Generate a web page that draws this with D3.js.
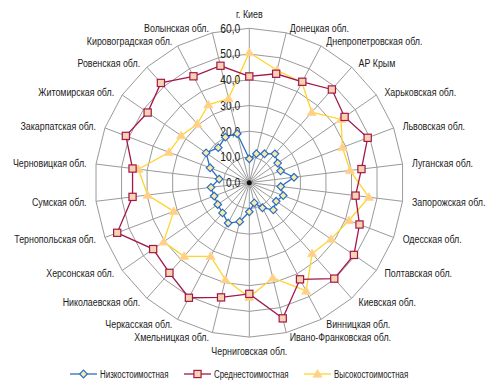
<!DOCTYPE html>
<html><head><meta charset="utf-8">
<script src="https://cdn.jsdelivr.net/npm/d3@7"></script>
<style>
html,body{margin:0;padding:0;background:#fff;}
text{font-family:"Liberation Sans",Arial,sans-serif;}
</style></head>
<body><svg id="c" width="500" height="389"></svg>
<script>
const categories = ["г. Киев","Донецкая обл.","Днепропетровская обл.","АР Крым","Харьковская обл.","Львовская обл.","Луганская обл.","Запорожская обл.","Одесская обл.","Полтавская обл.","Киевская обл.","Винницкая обл.","Ивано-Франковская обл.","Черниговская обл.","Хмельницкая обл.","Черкасская обл.","Николаевская обл.","Херсонская обл.","Тернопольская обл.","Сумская обл.","Черновицкая обл.","Закарпатская обл.","Житомирская обл.","Ровенская обл.","Кировоградская обл.","Волынская обл."];
const lowValues = [9.3,11.6,12.7,15.0,13.4,13.0,17.5,12.3,14.1,12.7,14.1,11.0,8.1,11.3,15.6,17.7,15.7,14.9,14.6,15.0,11.8,16.3,20.4,18.2,20.0,19.6];
const midValues = [41.3,43.6,44.3,48.4,45.0,49.2,43.9,41.6,45.8,49.4,49.8,42.4,54.3,43.2,45.9,50.5,46.8,45.4,54.9,45.7,45.7,51.3,48.0,51.8,46.7,46.8];
const highValues = [50.6,45.0,44.0,36.6,43.3,38.7,39.4,46.8,41.4,38.6,36.8,47.5,38.1,44.5,38.8,32.3,38.2,40.5,31.4,39.8,43.4,33.4,32.2,30.5,34.2,33.7];
const seriesNames = ["Низкостоимостная","Среднестоимостная","Высокостоимостная"];
const tickValues = [0,10,20,30,40,50,60];
const tickLabels = ["0,0","10,0","20,0","30,0","40,0","50,0","60,0"];

const cx = 249.3, cy = 182.7, R = 154.4;
const NARROW = 0.82;
const svg = d3.select("#c");
const n = categories.length;
const r = d3.scaleLinear().domain([0,60]).range([0,R]);
const ang = d3.scaleLinear().domain([0,n]).range([0,2*Math.PI]);
const pt = (i,v) => [cx + r(v)*Math.sin(ang(i)), cy - r(v)*Math.cos(ang(i))];

function ntext(sel, x, y, anchor, size, str, sx){
  return sel.append("text").attr("transform",`translate(${x},${y}) scale(${sx||NARROW},1)`)
    .attr("text-anchor",anchor).attr("dominant-baseline","central")
    .attr("font-size",size).attr("fill","#1a1a1a").text(str);
}

const g = svg.append("g");
tickValues.slice(1).forEach(t=>{
  const pts = d3.range(n).map(i=>pt(i,t));
  g.append("path").attr("d", d3.line()(pts)+"Z")
   .attr("fill","none").attr("stroke","#9a9a9a").attr("stroke-width",1);
});
d3.range(n).forEach(i=>{
  const p = pt(i,60);
  g.append("line").attr("x1",cx).attr("y1",cy).attr("x2",p[0]).attr("y2",p[1])
   .attr("stroke","#9a9a9a").attr("stroke-width",1);
});
g.append("circle").attr("cx",cx).attr("cy",cy).attr("r",2.5).attr("fill","#111");

categories.forEach((c,i)=>{
  const a = ang(i), s = Math.sin(a), co = Math.cos(a);
  let x, y, anchor;
  if (i===0){ x=cx; y=14; anchor="middle"; }
  else if (i===n/2){ x=cx; y=351; anchor="middle"; }
  else {
    x = cx + (R+8)*s + 1.5*Math.sign(s);
    y = cy - (R+5)*co;
    anchor = s>0 ? "start" : "end";
  }
  ntext(svg, x, y, anchor, 11.5, c, 0.77);
});

const series = [
  {name:seriesNames[0], values:lowValues, color:"#2a6fc4", fill:"#fde9a8", shape:"diamond"},
  {name:seriesNames[1], values:midValues, color:"#a3174c", fill:"#f7d3b0", shape:"square"},
  {name:seriesNames[2], values:highValues, color:"#ffd42a", fill:"#ffcf8a", shape:"triangle"}
];
function marker(sel, s, x, y){
  if (s.shape==="diamond"){
    sel.append("path").attr("d",`M${x},${y-3.8}L${x+3.8},${y}L${x},${y+3.8}L${x-3.8},${y}Z`)
      .attr("fill",s.fill).attr("stroke",s.color).attr("stroke-width",1.2);
  } else if (s.shape==="square"){
    sel.append("rect").attr("x",x-3.6).attr("y",y-3.6).attr("width",7.2).attr("height",7.2)
      .attr("fill",s.fill).attr("stroke",s.color).attr("stroke-width",1.2);
  } else {
    sel.append("path").attr("d",`M${x},${y-4.5}L${x+4.6},${y+3.2}L${x-4.6},${y+3.2}Z`)
      .attr("fill",s.fill).attr("stroke","#ffd88a").attr("stroke-width",0.8);
  }
}
[series[2],series[1],series[0]].forEach(s=>{
  const pts = s.values.map((v,i)=>pt(i,v));
  svg.append("path").attr("d", d3.line()(pts)+"Z").attr("fill","none")
    .attr("stroke",s.color).attr("stroke-width",1.3);
});
tickValues.forEach((t,k)=>{
  ntext(svg, cx-9, cy - r(t), "end", 12.5, tickLabels[k]);
});
[series[2],series[1],series[0]].forEach(s=>{
  const mg = svg.append("g");
  s.values.forEach((v,i)=>{ const p=pt(i,v); marker(mg,s,p[0],p[1]); });
});

const legX = [70,184,304];
series.forEach((s,k)=>{
  const x0 = legX[k], y0 = 374;
  svg.append("line").attr("x1",x0).attr("x2",x0+27).attr("y1",y0).attr("y2",y0)
    .attr("stroke",s.color).attr("stroke-width",1.3);
  marker(svg,s,x0+13.5,y0);
  ntext(svg, x0+30, y0, "start", 11.5, s.name, 0.69);
});
</script></body></html>
